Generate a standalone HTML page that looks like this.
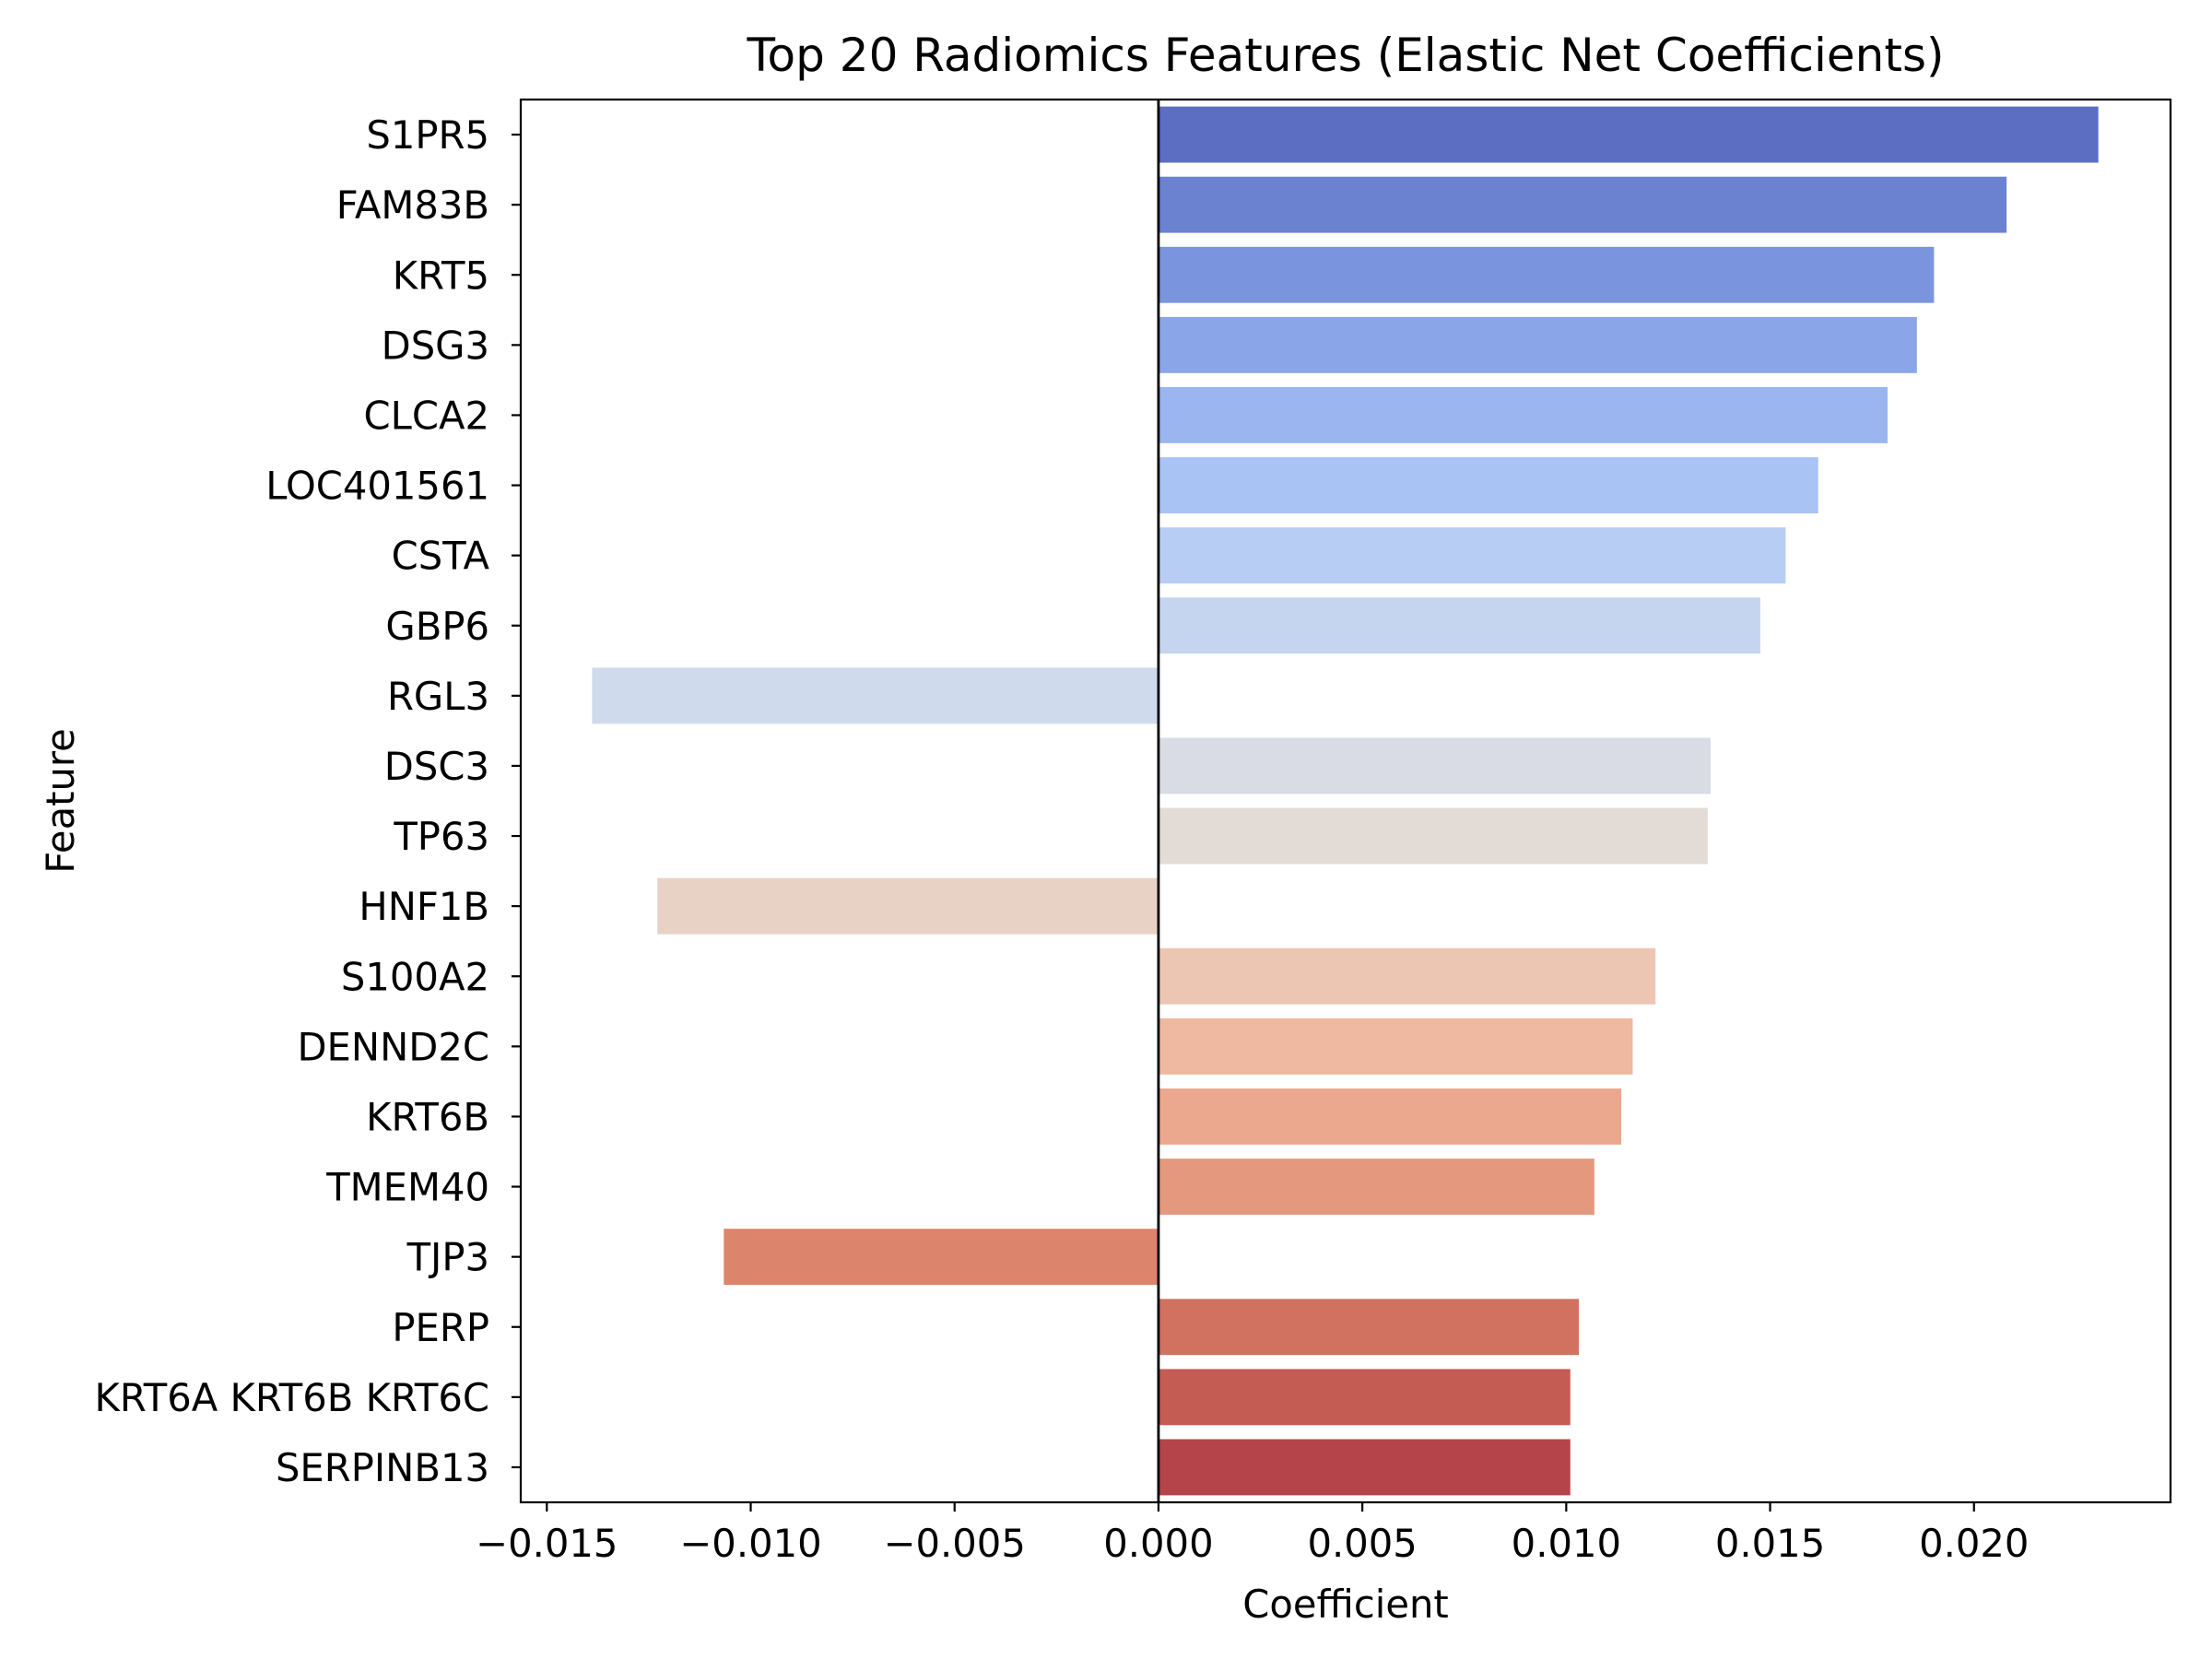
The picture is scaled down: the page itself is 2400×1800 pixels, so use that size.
<!DOCTYPE html>
<html><head><meta charset="utf-8"><style>
html,body{margin:0;padding:0;background:#fff;}
svg{display:block;font-family:"DejaVu Sans","Liberation Sans",sans-serif;}
</style></head><body>
<svg id="chart" width="2400" height="1800" viewBox="0 0 2400 1800" xmlns="http://www.w3.org/2000/svg">
<rect width="2400" height="1800" fill="#fff"/>
<text x="1460" y="77" text-anchor="middle" font-size="50" fill="#000">Top 20 Radiomics Features (Elastic Net Coefficients)</text>
<g id="bars"></g>
<g id="ticks"></g>
<text x="1460" y="1755" text-anchor="middle" font-size="41.7" fill="#000">Coefficient</text>
<text x="0" y="0" transform="translate(80,869) rotate(-90)" text-anchor="middle" font-size="41.7" fill="#000">Feature</text>
</svg>
<script>
const categories = ["S1PR5","FAM83B","KRT5","DSG3","CLCA2","LOC401561","CSTA","GBP6","RGL3","DSC3","TP63","HNF1B","S100A2","DENND2C","KRT6B","TMEM40","TJP3","PERP","KRT6A KRT6B KRT6C","SERPINB13"];
const values = [0.02305,0.02080,0.01902,0.01860,0.01788,0.01618,0.01538,0.01476,-0.01389,0.01354,0.01347,-0.01229,0.01219,0.01163,0.01135,0.01069,-0.01066,0.01031,0.01010,0.01010];
const colors = ["#5b6ec2","#6a82d0","#7a95dd","#8aa6e8","#9ab5f0","#a9c3f5","#b8cdf4","#c5d5f0","#cfdaed","#d9dce4","#e3dbd6","#e8d2c6","#ecc5b3","#eeb8a1","#eba88e","#e4997f","#dc856c","#d1715f","#c45c54","#b5444a"];
const xTicks = [-0.015,-0.010,-0.005,0.000,0.005,0.010,0.015,0.020];
const xTickLabels = ["\u22120.015","\u22120.010","\u22120.005","0.000","0.005","0.010","0.015","0.020"];

const NS="http://www.w3.org/2000/svg";
const L=565,R=2355,T=108,B=1630;
const XMIN=-0.01564,XMAX=0.02482;
function xs(v){return L+(v-XMIN)/(XMAX-XMIN)*(R-L);}
const band=(B-T)/categories.length;
function yc(i){return T+band*(i+0.5);}
function mk(tag,attrs,parent){const e=document.createElementNS(NS,tag);for(const k in attrs)e.setAttribute(k,attrs[k]);parent.appendChild(e);return e;}
const svg=document.getElementById('chart');
const gb=document.getElementById('bars');
const gt=document.getElementById('ticks');
categories.forEach((c,i)=>{
  const v=values[i];
  const x0=xs(0),x1=xs(v);
  const r=mk('rect',{x:Math.min(x0,x1),y:yc(i)-band*0.4,width:Math.abs(x1-x0),height:band*0.8,fill:colors[i]},gb);
  
  
  const tk=mk('line',{x1:L-10,x2:L,y1:yc(i),y2:yc(i),stroke:'#000','stroke-width':2.2},gt);
  
  
  const t=mk('text',{x:L-34,y:yc(i)+15,'text-anchor':'end','font-size':41.7,fill:'#000'},gt);
  t.textContent=c;
  
  
});
xTicks.forEach((v,i)=>{
  const x=xs(v);
  const tk=mk('line',{x1:x,x2:x,y1:B,y2:B+10,stroke:'#000','stroke-width':2.2},gt);
  
  
  const t=mk('text',{x:x,y:1689,'text-anchor':'middle','font-size':41.7,fill:'#000'},gt);
  t.textContent=xTickLabels[i];
  
  
});
const zl=mk('line',{x1:xs(0),x2:xs(0),y1:T,y2:B,stroke:'#000','stroke-width':2.8},svg);


const fr=mk('rect',{x:L,y:T,width:R-L,height:B-T,fill:'none',stroke:'#000','stroke-width':2.2},svg);


</script>
</body></html>
